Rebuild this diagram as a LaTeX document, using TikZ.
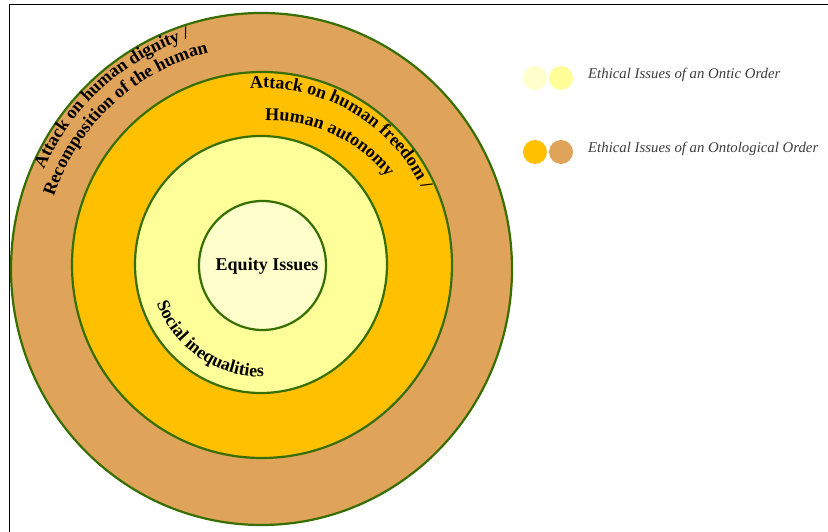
\documentclass[tikz,border=0pt]{standalone}
\usepackage{fontspec}
\setmainfont{Liberation Serif}
\usetikzlibrary{decorations.text}
\definecolor{ringline}{RGB}{55,110,0}
\definecolor{ringtan}{RGB}{224,163,90}
\definecolor{ringorange}{RGB}{255,192,0}
\definecolor{ringyellow}{RGB}{255,255,153}
\definecolor{ringcream}{RGB}{255,255,204}
\definecolor{legendtext}{RGB}{60,60,60}
\newcommand{\ringfont}{\bfseries\fontsize{18}{20}\selectfont}
\begin{document}
\begin{tikzpicture}[x=1pt,y=1pt,
  ring/.style={draw=ringline, line width=2.2pt},
  dot/.style={circle, minimum size=24pt, inner sep=0pt},
  legendlabel/.style={anchor=base west, inner sep=0pt, text=legendtext, font=\itshape\fontsize{14.8}{17}\selectfont},
  ringtext/.style={decorate, decoration={text along path, text align=center, text={#1}}}]
\useasboundingbox (0,0) rectangle (828,532);
\draw[line width=1pt] (9,0) -- (9,527) -- (828,527);
% rings
\draw[ring, fill=ringtan] (261.5,263) ellipse [x radius=250.5, y radius=256];
\draw[ring, fill=ringorange] (262,267) ellipse [x radius=190, y radius=193];
\draw[ring, fill=ringyellow] (261,267.5) ellipse [x radius=126, y radius=128.5];
\draw[ring, fill=ringcream] (262.5,266.5) ellipse [x radius=63.5, y radius=64.5];
\coordinate (C) at (262,267);
\coordinate (C2) at (269.5,261.5);
% curved labels
\path[shift={(C)}, ringtext={|\ringfont|Attack on human dignity /}] (172:238) arc[start angle=172, end angle=92, radius=238];
\path[shift={(C)}, ringtext={|\ringfont|Recomposition of the human}] (173:219) arc[start angle=173, end angle=93, radius=219];
\path[shift={(C)}, ringtext={|\ringfont|Attack on human freedom /}] (104:177) arc[start angle=104, end angle=15, radius=177];
\path[shift={(C2)}, ringtext={|\ringfont|Human autonomy}] (110:150) arc[start angle=110, end angle=20, radius=150];
\path[shift={(C)}, ringtext={|\ringfont|Social inequalities}] (175:112) arc[start angle=175, end angle=296, radius=112];
\node[font=\ringfont, inner sep=0pt] (equity) at (267,266) {Equity Issues};
% legend
\node[dot, fill=ringcream] (d1) at (535,454) {};
\node[dot, fill=ringyellow] (d2) at (561,454) {};
\node[dot, fill=ringorange] (d3) at (535,380) {};
\node[dot, fill=ringtan] (d4) at (561,380) {};
\node[legendlabel] (l1) at (588,453) {Ethical Issues of an Ontic Order};
\node[legendlabel] (l2) at (588,379) {Ethical Issues of an Ontological Order};
\end{tikzpicture}
\end{document}
